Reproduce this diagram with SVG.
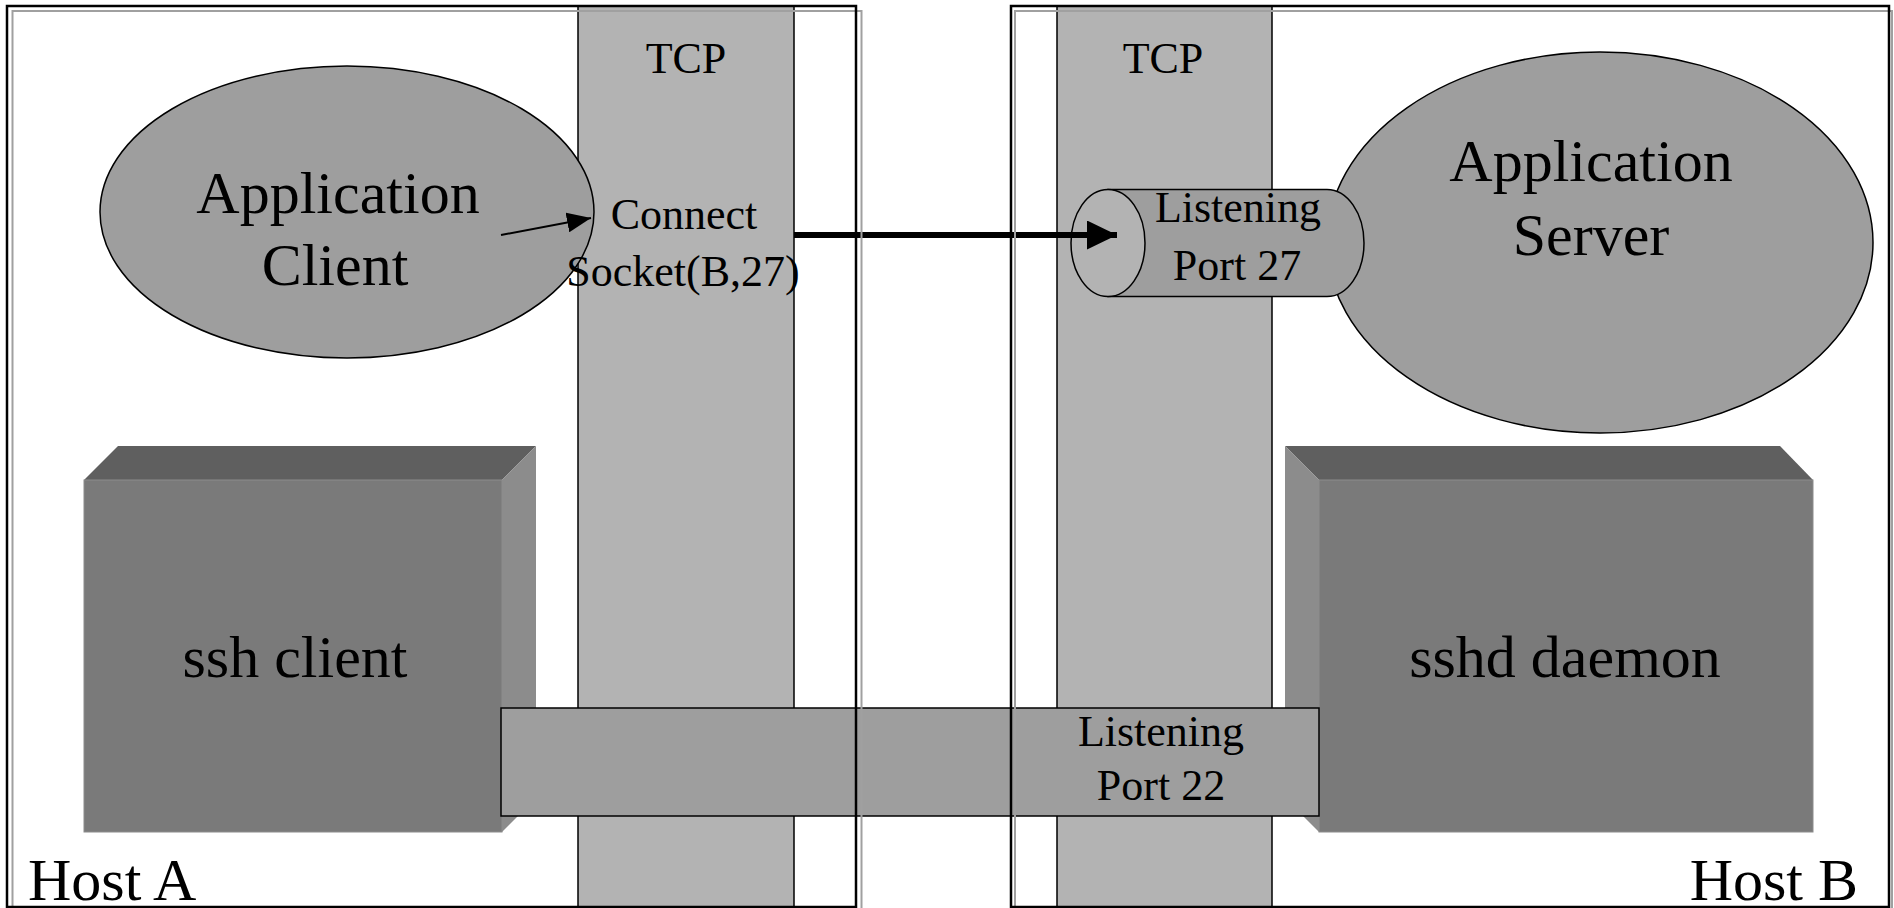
<svg xmlns="http://www.w3.org/2000/svg" width="1894" height="908" viewBox="0 0 1894 908">
  <style>
    text { font-family: "Liberation Serif", "Times New Roman", serif; fill: #000; text-anchor: middle; }
    .big { font-size: 60px; }
    .mid { font-size: 44px; }
    .tcp { fill: #b3b3b3; stroke: #000; stroke-width: 1.5; }
    .proc { fill: #9e9e9e; stroke: #000; stroke-width: 1.5; }
    .box-top { fill: #5f5f5f; }
    .box-front { fill: #7a7a7a; stroke: #8c8c8c; stroke-width: 1; }
    .box-side { fill: #8c8c8c; }
    .frame { fill: none; stroke: #000; stroke-width: 2.5; }
    .frame-shadow { fill: none; stroke: #a0a0a0; stroke-width: 2; }
  </style>
  <defs>
    <marker id="head-small" viewBox="0 0 24 20" refX="24" refY="10" markerWidth="24" markerHeight="20" markerUnits="userSpaceOnUse" orient="auto">
      <path d="M0,0 L24,10 L0,20 Z" fill="#000"/>
    </marker>
    <marker id="head-big" viewBox="0 0 30 29" refX="30" refY="14.5" markerWidth="30" markerHeight="29" markerUnits="userSpaceOnUse" orient="auto">
      <path d="M0,0 L30,14.5 L0,29 Z" fill="#000"/>
    </marker>
  </defs>

  <rect x="0" y="0" width="1894" height="908" fill="#fff"/>

  <!-- TCP stacks -->
  <g id="tcp-a">
    <rect class="tcp" x="578" y="6" width="216" height="910"/>
    <text class="mid" x="686" y="73">TCP</text>
  </g>
  <g id="tcp-b">
    <rect class="tcp" x="1057" y="6" width="215" height="910"/>
    <text class="mid" x="1163" y="73">TCP</text>
  </g>

  <!-- Application client process -->
  <g id="app-client">
    <ellipse class="proc" cx="347" cy="212" rx="247" ry="146"/>
    <text class="big" x="338" y="213">Application</text>
    <text class="big" x="335" y="285">Client</text>
  </g>

  <!-- Socket label in stack A -->
  <g id="connect-socket">
    <text class="mid" x="684" y="229">Connect</text>
    <text class="mid" x="683" y="286">Socket(B,27)</text>
  </g>

  <!-- Application server process -->
  <g id="app-server">
    <ellipse class="proc" cx="1600" cy="242.5" rx="273" ry="190.5"/>
    <text class="big" x="1591" y="181">Application</text>
    <text class="big" x="1591" y="255">Server</text>
  </g>

  <!-- Listening port 27 (cylinder) -->
  <g id="port-27">
    <path class="proc" d="M1108,189.5 L1327,189.5 A37,53.5 0 0 1 1327,296.5 L1108,296.5 Z"/>
    <ellipse class="tcp" cx="1108" cy="243" rx="37" ry="53.5"/>
    <text class="mid" x="1238" y="222">Listening</text>
    <text class="mid" x="1237" y="280">Port 27</text>
  </g>

  <!-- ssh client block -->
  <g id="ssh-client">
    <polygon class="box-top" points="118,446 536,446 502,480 84,480"/>
    <polygon class="box-side" points="502,480 536,446 536,798 502,832"/>
    <rect class="box-front" x="84" y="480" width="418" height="352"/>
    <text class="big" x="295" y="677">ssh client</text>
  </g>

  <!-- sshd daemon block -->
  <g id="sshd-daemon">
    <polygon class="box-top" points="1285,446 1780,446 1813,480 1319,480"/>
    <polygon class="box-side" points="1285,446 1319,480 1319,832 1285,798"/>
    <rect class="box-front" x="1319" y="480" width="494" height="352"/>
    <text class="big" x="1565" y="677">sshd daemon</text>
  </g>

  <!-- Listening port 22 tunnel -->
  <g id="port-22">
    <rect class="proc" x="501" y="708" width="818" height="108" stroke-width="2"/>
    <text class="mid" x="1161" y="746">Listening</text>
    <text class="mid" x="1161" y="800">Port 22</text>
  </g>

  <!-- Connectors -->
  <g id="connectors">
    <line x1="501" y1="235" x2="591" y2="218" stroke="#000" stroke-width="2" marker-end="url(#head-small)"/>
    <line x1="794" y1="235" x2="1117" y2="235" stroke="#000" stroke-width="6" marker-end="url(#head-big)"/>
  </g>

  <!-- Host frames -->
  <g id="host-a">
    <rect class="frame-shadow" x="12.5" y="11" width="849" height="902"/>
    <rect class="frame" x="7" y="6" width="849" height="901"/>
    <text class="big" x="28" y="900" style="text-anchor:start">Host A</text>
  </g>
  <g id="host-b">
    <rect class="frame-shadow" x="1015" y="11" width="877" height="902"/>
    <rect class="frame" x="1011" y="6" width="878" height="901"/>
    <text class="big" x="1858" y="900" style="text-anchor:end">Host B</text>
  </g>
</svg>
